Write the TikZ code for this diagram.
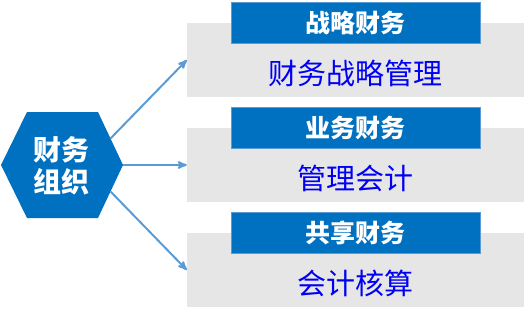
\documentclass[tikz,border=0pt]{standalone}
\usepackage{fontspec}
\newfontfamily\cjk{Noto Sans CJK SC}
\usepackage{tikz}
\usetikzlibrary{arrows,calc}
\definecolor{orgBlue}{RGB}{0,112,192}
\definecolor{lineBlue}{RGB}{91,155,213}
\definecolor{boxGray}{RGB}{231,230,230}
\definecolor{itemBlue}{RGB}{0,0,245}

\begin{document}
\begin{tikzpicture}
[x=1pt,y=-1pt,
    bodyDecorate/.style={shape=rectangle,inner sep=0pt,fill=boxGray,minimum width=337pt,minimum height=74pt},%
    headDecorate/.style={shape=rectangle,inner sep=0pt,fill=orgBlue,draw=lineBlue,line width=0.4pt,minimum width=249pt,minimum height=41pt,text=white,font=\cjk\bfseries\fontsize{25}{30}\selectfont},%
    itemDecorate/.style={inner sep=0pt,text=itemBlue,font=\cjk\fontsize{29}{34}\selectfont},%
    orgDecorate/.style={inner sep=0pt,align=center,text=white,font=\cjk\bfseries\fontsize{28}{32}\selectfont},%
    lineDecorate/.style={lineBlue,->,>=stealth',line width=2pt}]
    \useasboundingbox (0,0) rectangle (525,316);
    %% hexagon
    \foreach \nodename/\x/\y in {hexL/1/165, hexTL/27/112, hexTR/98/112, hexR/123/165, hexBR/98/218, hexBL/27/218}
    {
        \coordinate (\nodename) at (\x,\y);
    }
    \fill[orgBlue] (hexL) -- (hexTL) -- (hexTR) -- (hexR) -- (hexBR) -- (hexBL) -- cycle;
    \node (org) at (62,166) [orgDecorate] {财务\\组织};
    \coordinate (hexUp) at ($(hexTR)!0.5!(hexR)$);
    \coordinate (hexDown) at ($(hexBR)!0.5!(hexR)$);
    %% boxes
    \foreach \nodename/\y/\head/\item in {strat/60/战略财务/财务战略管理, busi/165/业务财务/管理会计, share/270/共享财务/会计核算}
    {
        \node (\nodename) at (355.5,\y) [bodyDecorate] {};
        \node (\nodename Head) at (\nodename.north) [headDecorate] {\head};
        \node (\nodename Item) at ([yshift=-13.5pt]\nodename.center) [itemDecorate] {\item};
    }
    %% edges or lines
    \path\foreach \startnode/\endnode in {hexUp/strat, hexR/busi, hexDown/share}
    {
        (\startnode) edge[lineDecorate] (\endnode.west)
    };
\end{tikzpicture}
\end{document}
